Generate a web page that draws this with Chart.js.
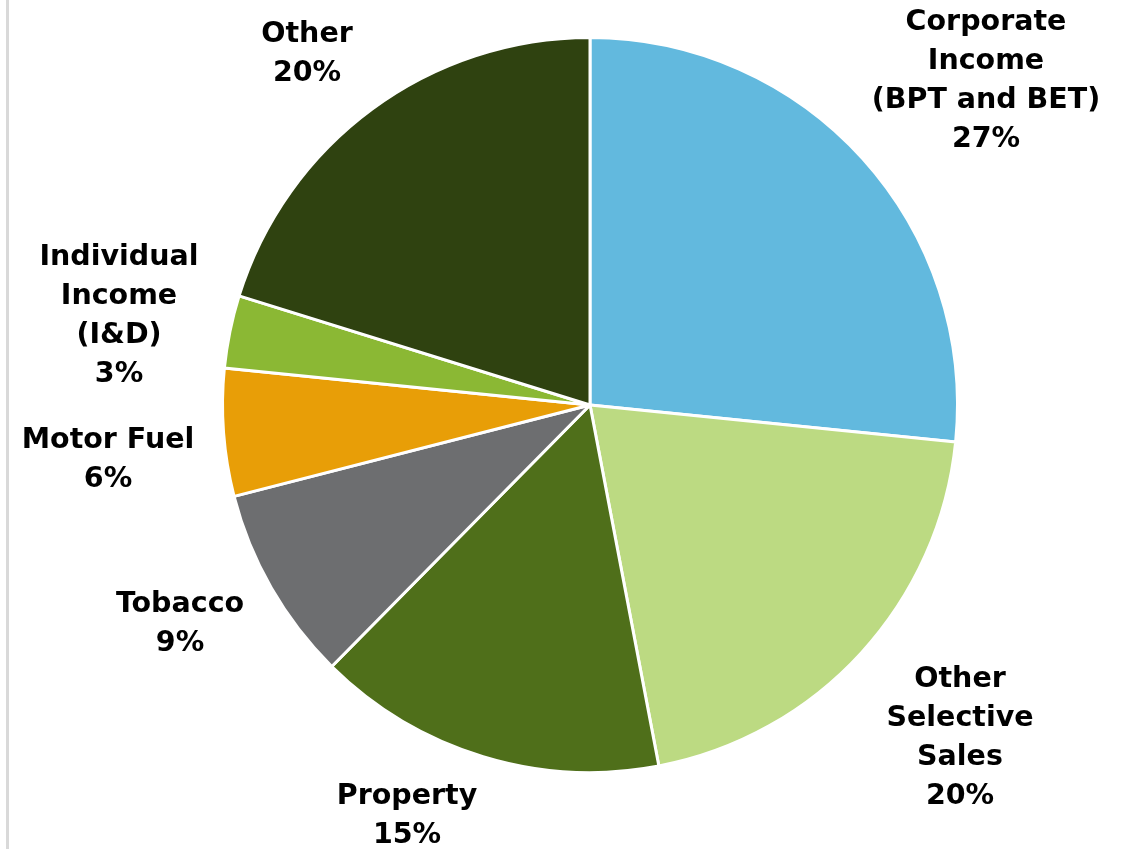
<!DOCTYPE html>
<html>
<head>
<meta charset="utf-8">
<script src="https://cdn.jsdelivr.net/npm/chart.js@4.4.0/dist/chart.umd.min.js"></script>
<style>
  html, body { margin: 0; padding: 0; background: #fff; }
  #wrap { position: relative; width: 1132px; height: 849px; }
  #edge { position: absolute; left: 6px; top: 0; width: 3px; height: 849px; background: #d9d9d9; }
  canvas { position: absolute; left: 0; top: 0; }
</style>
</head>
<body>
<div id="wrap">
  <div id="edge"></div>
  <canvas id="pie" width="1132" height="849"></canvas>
</div>
<script>
const categories = ['Corporate Income (BPT and BET)', 'Other Selective Sales', 'Property', 'Tobacco', 'Motor Fuel', 'Individual Income (I&D)', 'Other'];
const shares = [26.6, 20.4, 15.4, 8.6, 5.6, 3.2, 20.2];
const labelLines = [
  ['Corporate', 'Income', '(BPT and BET)'],
  ['Other', 'Selective', 'Sales'],
  ['Property'],
  ['Tobacco'],
  ['Motor Fuel'],
  ['Individual', 'Income', '(I&D)'],
  ['Other']
];
const colors = ['#62b9de', '#bcda82', '#4f6f1a', '#6d6e70', '#e89e07', '#8bb834', '#2f4210'];

// where each label block's first line sits, relative to the pie centre
const labelOffsets = [
  [396, -382], [370, 275], [-183, 392], [-410, 200], [-482, 36], [-471, -147], [-283, -370]
];

const ctx = document.getElementById('pie');

const outsideLabels = {
  id: 'outsideLabels',
  afterDatasetsDraw(chart) {
    const c = chart.ctx;
    const meta = chart.getDatasetMeta(0);
    const total = shares.reduce((a, b) => a + b, 0);
    c.save();
    c.font = 'bold 28.5px "DejaVu Sans"';
    c.fillStyle = '#000';
    c.textAlign = 'center';
    c.textBaseline = 'middle';
    meta.data.forEach((arc, i) => {
      const lines = labelLines[i].concat([Math.round(shares[i] / total * 100) + '%']);
      const x = arc.x + labelOffsets[i][0];
      const y = arc.y + labelOffsets[i][1];
      lines.forEach((t, k) => c.fillText(t, x, y + k * 38.7));
    });
    c.restore();
  }
};

new Chart(ctx, {
  type: 'pie',
  data: {
    labels: categories,
    datasets: [{
      data: shares,
      backgroundColor: colors,
      borderColor: '#ffffff',
      borderWidth: 3,
      hoverOffset: 0
    }]
  },
  options: {
    responsive: false,
    animation: false,
    layout: { padding: { top: 36, bottom: 75, left: 200, right: 152 } },
    plugins: {
      legend: { display: false },
      tooltip: { enabled: false }
    }
  },
  plugins: [outsideLabels]
});
</script>
</body>
</html>
